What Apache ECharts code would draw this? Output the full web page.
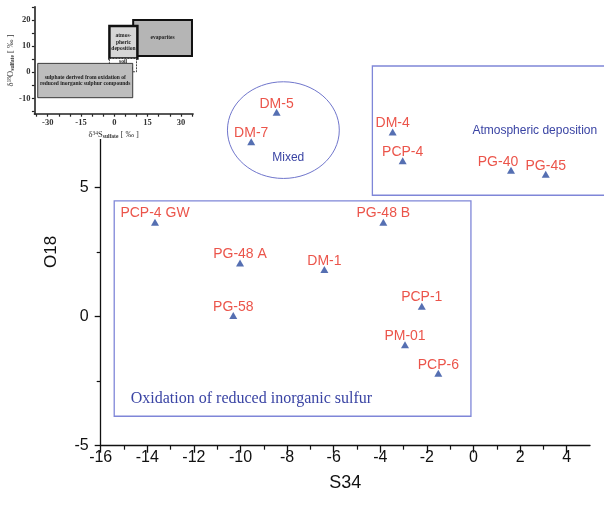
<!DOCTYPE html>
<html>
<head>
<meta charset="utf-8">
<title>S34 vs O18</title>
<script src="https://cdn.jsdelivr.net/npm/echarts@6/dist/echarts.min.js"></script>
<style>
  html, body { margin: 0; padding: 0; background: #fff; }
  #chart { width: 604px; height: 505px; }
</style>
</head>
<body>
<div id="chart"></div>
<script>
// samples (S34 / O18)
var sampleNames = ['PCP-4 GW', 'PG-48 B', 'PG-48 A', 'DM-1', 'PCP-1', 'PG-58', 'PM-01', 'PCP-6',
                   'DM-5', 'DM-7', 'DM-4', 'PCP-4', 'PG-40', 'PG-45'];
var s34 = [-13.67, -3.87, -10.02, -6.4, -2.22, -10.31, -2.94, -1.51, -8.45, -9.54, -3.47, -3.04, 1.61, 3.1];
var o18 = [3.65, 3.65, 2.07, 1.82, 0.4, 0.04, -1.09, -2.2, 7.9, 6.76, 7.14, 6.02, 5.66, 5.5];

// axis ticks
var xTickLabels = [-16, -14, -12, -10, -8, -6, -4, -2, 0, 2, 4];
var xMinorTicks = [-15, -13, -11, -9, -7, -5, -3, -1, 1, 3];

// group outlines drawn on the main plot
var boxX0 = [-15.42, -4.34];
var boxX1 = [-0.11, 6.2];
var boxY0 = [-3.86, 4.69];
var boxY1 = [4.47, 9.69];
var mixedCenter = [-8.16, 7.21];
var mixedRadius = [2.4, 1.87];
var groupNames = ['Mixed', 'Atmospheric deposition', 'Oxidation of reduced inorganic sulfur'];
var groupX = [-7.95, 2.63, -14.71];
var groupY = [6.14, 7.17, -3.17];

// inset (source fields)
var insetNames = ['evaporites', 'atmos-\npheric\ndeposition', 'soil\nsulphate',
                  'sulphate derived from oxidation of\nreduced inorganic sulphur compounds'];
var insetX0 = [8.5, -2.2, -2.2, -34.5];
var insetX1 = [35, 10.4, 10, 8.3];
var insetY0 = [6.2, 5.3, 0.2, -9.7];
var insetY1 = [20, 17.7, 5.3, 3.4];
var insetXLabels = [-30, -15, 0, 15, 30];
var insetYLabels = [-10, 0, 10, 20];
var insetXTicks = [-35, -30, -25, -20, -15, -10, -5, 0, 5, 10, 15, 20, 25, 30, 35];
var insetYTicks = [-15, -10, -5, 0, 5, 10, 15, 20, 25];

var labelShiftX = { 'PG-40': -13 };
var insetFill = ['#b5b5b5', '#d6d6d6', '#ffffff', '#bdbdbd'];
var insetStroke = [2, 2.5, 0.8, 0.8];
var groupFont = ['12px "Liberation Sans", Arial', '12px "Liberation Sans", Arial', '16px "Liberation Serif", "Times New Roman", serif'];
var groupAlign = ['center', 'center', 'left'];

var chart = echarts.init(document.getElementById('chart'));

var samples = sampleNames.map(function (n, i) {
  var item = { name: n, value: [s34[i], o18[i]] };
  if (labelShiftX[n]) item.label = { offset: [labelShiftX[n], 2] };
  return item;
});

var boxData = boxX0.map(function (v, i) { return [v, boxX1[i], boxY0[i], boxY1[i]]; });
var groupData = groupNames.map(function (n, i) { return { name: n, value: [groupX[i], groupY[i]] }; });
var insetData = insetNames.map(function (n, i) {
  return { name: n, value: [insetX0[i], insetX1[i], insetY0[i], insetY1[i]] };
});

var serif = '"Liberation Serif", "Times New Roman", serif';
var insetNameRich = {
  d: { fontSize: 8.5, fontFamily: serif, color: '#333' },
  sup: { fontSize: 5.5, fontFamily: serif, color: '#333', verticalAlign: 'top', lineHeight: 8 },
  sub: { fontSize: 5.5, fontFamily: serif, color: '#333', fontWeight: 'bold', verticalAlign: 'bottom', lineHeight: 8 }
};

var option = {
  animation: false,
  backgroundColor: '#fff',
  grid: [
    { left: 100.7, right: 14, top: 58, bottom: 59.3 },
    { left: 34.4, top: 6.8, width: 158.7, height: 107.4 }
  ],
  graphic: [{
    type: 'rect', left: 0, top: 0, z: 50,
    shape: { width: 208, height: 139 },
    style: { fill: '#fff' }
  }],
  xAxis: [
    {
      gridIndex: 0, type: 'value', min: -16, max: 5, position: 'bottom',
      name: 'S34', nameLocation: 'middle', nameGap: 28,
      nameTextStyle: { fontSize: 18, color: '#111', fontFamily: '"Liberation Sans", Arial' },
      axisLine: { onZero: false, lineStyle: { color: '#111', width: 1.3 } },
      axisTick: { customValues: xTickLabels, length: 7, lineStyle: { color: '#111', width: 1.3 } },
      axisLabel: { customValues: xTickLabels, fontSize: 16, margin: 4, color: '#111', fontFamily: '"Liberation Sans", Arial' },
      splitLine: { show: false }
    },
    {
      gridIndex: 0, type: 'value', min: -16, max: 5, position: 'bottom', offset: 0,
      axisLine: { show: false, onZero: false },
      axisTick: { customValues: xMinorTicks, length: 4, lineStyle: { color: '#111', width: 1.2 } },
      axisLabel: { show: false },
      splitLine: { show: false }
    },
    {
      gridIndex: 1, type: 'value', min: -36, max: 35.5, z: 60,
      name: '{d|δ}{sup|34}{d|S}{sub|sulfate}{d| [ ‰ ]}', nameLocation: 'middle', nameGap: 16,
      nameTextStyle: { rich: insetNameRich },
      axisLine: { onZero: false, lineStyle: { color: '#222', width: 1.6 } },
      axisTick: { customValues: insetXTicks, length: 2.5, lineStyle: { color: '#222', width: 1.2 } },
      axisLabel: { customValues: insetXLabels, fontSize: 8.5, fontWeight: 'bold', margin: 4, color: '#333', fontFamily: serif },
      splitLine: { show: false }
    }
  ],
  yAxis: [
    {
      gridIndex: 0, type: 'value', min: -5, max: 10, interval: 5,
      name: 'O18', nameLocation: 'middle', nameGap: 35,
      nameTextStyle: { fontSize: 17, color: '#111', fontFamily: '"Liberation Sans", Arial' },
      axisLine: { onZero: false, lineStyle: { color: '#111', width: 1.3 } },
      axisTick: { length: 6, lineStyle: { color: '#111', width: 1.3 } },
      minorTick: { show: true, splitNumber: 2, length: 4, lineStyle: { color: '#111', width: 1.2 } },
      axisLabel: { fontSize: 16, margin: 12, color: '#111', fontFamily: '"Liberation Sans", Arial' },
      splitLine: { show: false }
    },
    {
      gridIndex: 1, type: 'value', min: -16, max: 25, z: 60,
      name: '{d|δ}{sup|18}{d|O}{sub|sulfate}{d| [ ‰ ]}', nameLocation: 'middle', nameGap: 15,
      nameTextStyle: { rich: insetNameRich },
      axisLine: { onZero: false, lineStyle: { color: '#222', width: 1.6 } },
      axisTick: { customValues: insetYTicks, length: 2.5, lineStyle: { color: '#222', width: 1.2 } },
      axisLabel: { customValues: insetYLabels, fontSize: 8.5, fontWeight: 'bold', margin: 4, color: '#333', fontFamily: serif },
      splitLine: { show: false }
    }
  ],
  series: [
    {
      name: 'group boxes', type: 'custom', xAxisIndex: 0, yAxisIndex: 0, z: 1,
      encode: { x: [0, 1], y: [2, 3] },
      data: boxData,
      renderItem: function (params, api) {
        var p0 = api.coord([api.value(0), api.value(3)]);
        var p1 = api.coord([api.value(1), api.value(2)]);
        return {
          type: 'rect',
          shape: { x: p0[0], y: p0[1], width: p1[0] - p0[0], height: p1[1] - p0[1] },
          style: { fill: 'none', stroke: '#7f86d8', lineWidth: 1.3 }
        };
      }
    },
    {
      name: 'mixed', type: 'custom', xAxisIndex: 0, yAxisIndex: 0, z: 1,
      data: [mixedCenter],
      renderItem: function (params, api) {
        var c = api.coord([api.value(0), api.value(1)]);
        var s = api.size([mixedRadius[0], mixedRadius[1]]);
        return {
          type: 'ellipse',
          shape: { cx: c[0], cy: c[1], rx: s[0], ry: s[1] },
          style: { fill: 'none', stroke: '#7076cc', lineWidth: 1 }
        };
      }
    },
    {
      name: 'group names', type: 'custom', xAxisIndex: 0, yAxisIndex: 0, z: 3,
      data: groupData,
      renderItem: function (params, api) {
        var c = api.coord([api.value(0), api.value(1)]);
        var i = params.dataIndex;
        return {
          type: 'text', x: c[0], y: c[1],
          style: {
            text: groupNames[i], fill: '#3a44a4', font: groupFont[i],
            align: groupAlign[i], verticalAlign: 'middle'
          }
        };
      }
    },
    {
      name: 'samples', type: 'scatter', xAxisIndex: 0, yAxisIndex: 0, z: 4,
      symbol: 'triangle', symbolSize: [8, 7],
      itemStyle: { color: '#2b4b9f' },
      label: {
        show: true, position: 'top', distance: 0, offset: [0, 2],
        formatter: '{b}', color: '#e6291d', fontSize: 14,
        fontFamily: '"Liberation Sans", Arial'
      },
      data: samples
    },
    {
      name: 'inset fields', type: 'custom', xAxisIndex: 2, yAxisIndex: 1, z: 60,
      encode: { x: [0, 1], y: [2, 3] },
      data: insetData,
      renderItem: function (params, api) {
        var i = params.dataIndex;
        var p0 = api.coord([api.value(0), api.value(3)]);
        var p1 = api.coord([api.value(1), api.value(2)]);
        return {
          type: 'group',
          children: [{
            type: 'rect',
            shape: { x: p0[0], y: p0[1], width: p1[0] - p0[0], height: p1[1] - p0[1] },
            style: {
              fill: insetFill[i], stroke: '#111', lineWidth: insetStroke[i],
              lineDash: i === 2 ? [2, 1] : null
            }
          }, {
            type: 'text',
            x: (p0[0] + p1[0]) / 2, y: (p0[1] + p1[1]) / 2,
            style: {
              text: insetNames[i], fill: '#222', fontSize: 5.5, fontWeight: 'bold',
              fontFamily: serif, align: 'center', verticalAlign: 'middle', lineHeight: 6.5
            }
          }]
        };
      }
    }
  ]
};

chart.setOption(option);
</script>
</body>
</html>
